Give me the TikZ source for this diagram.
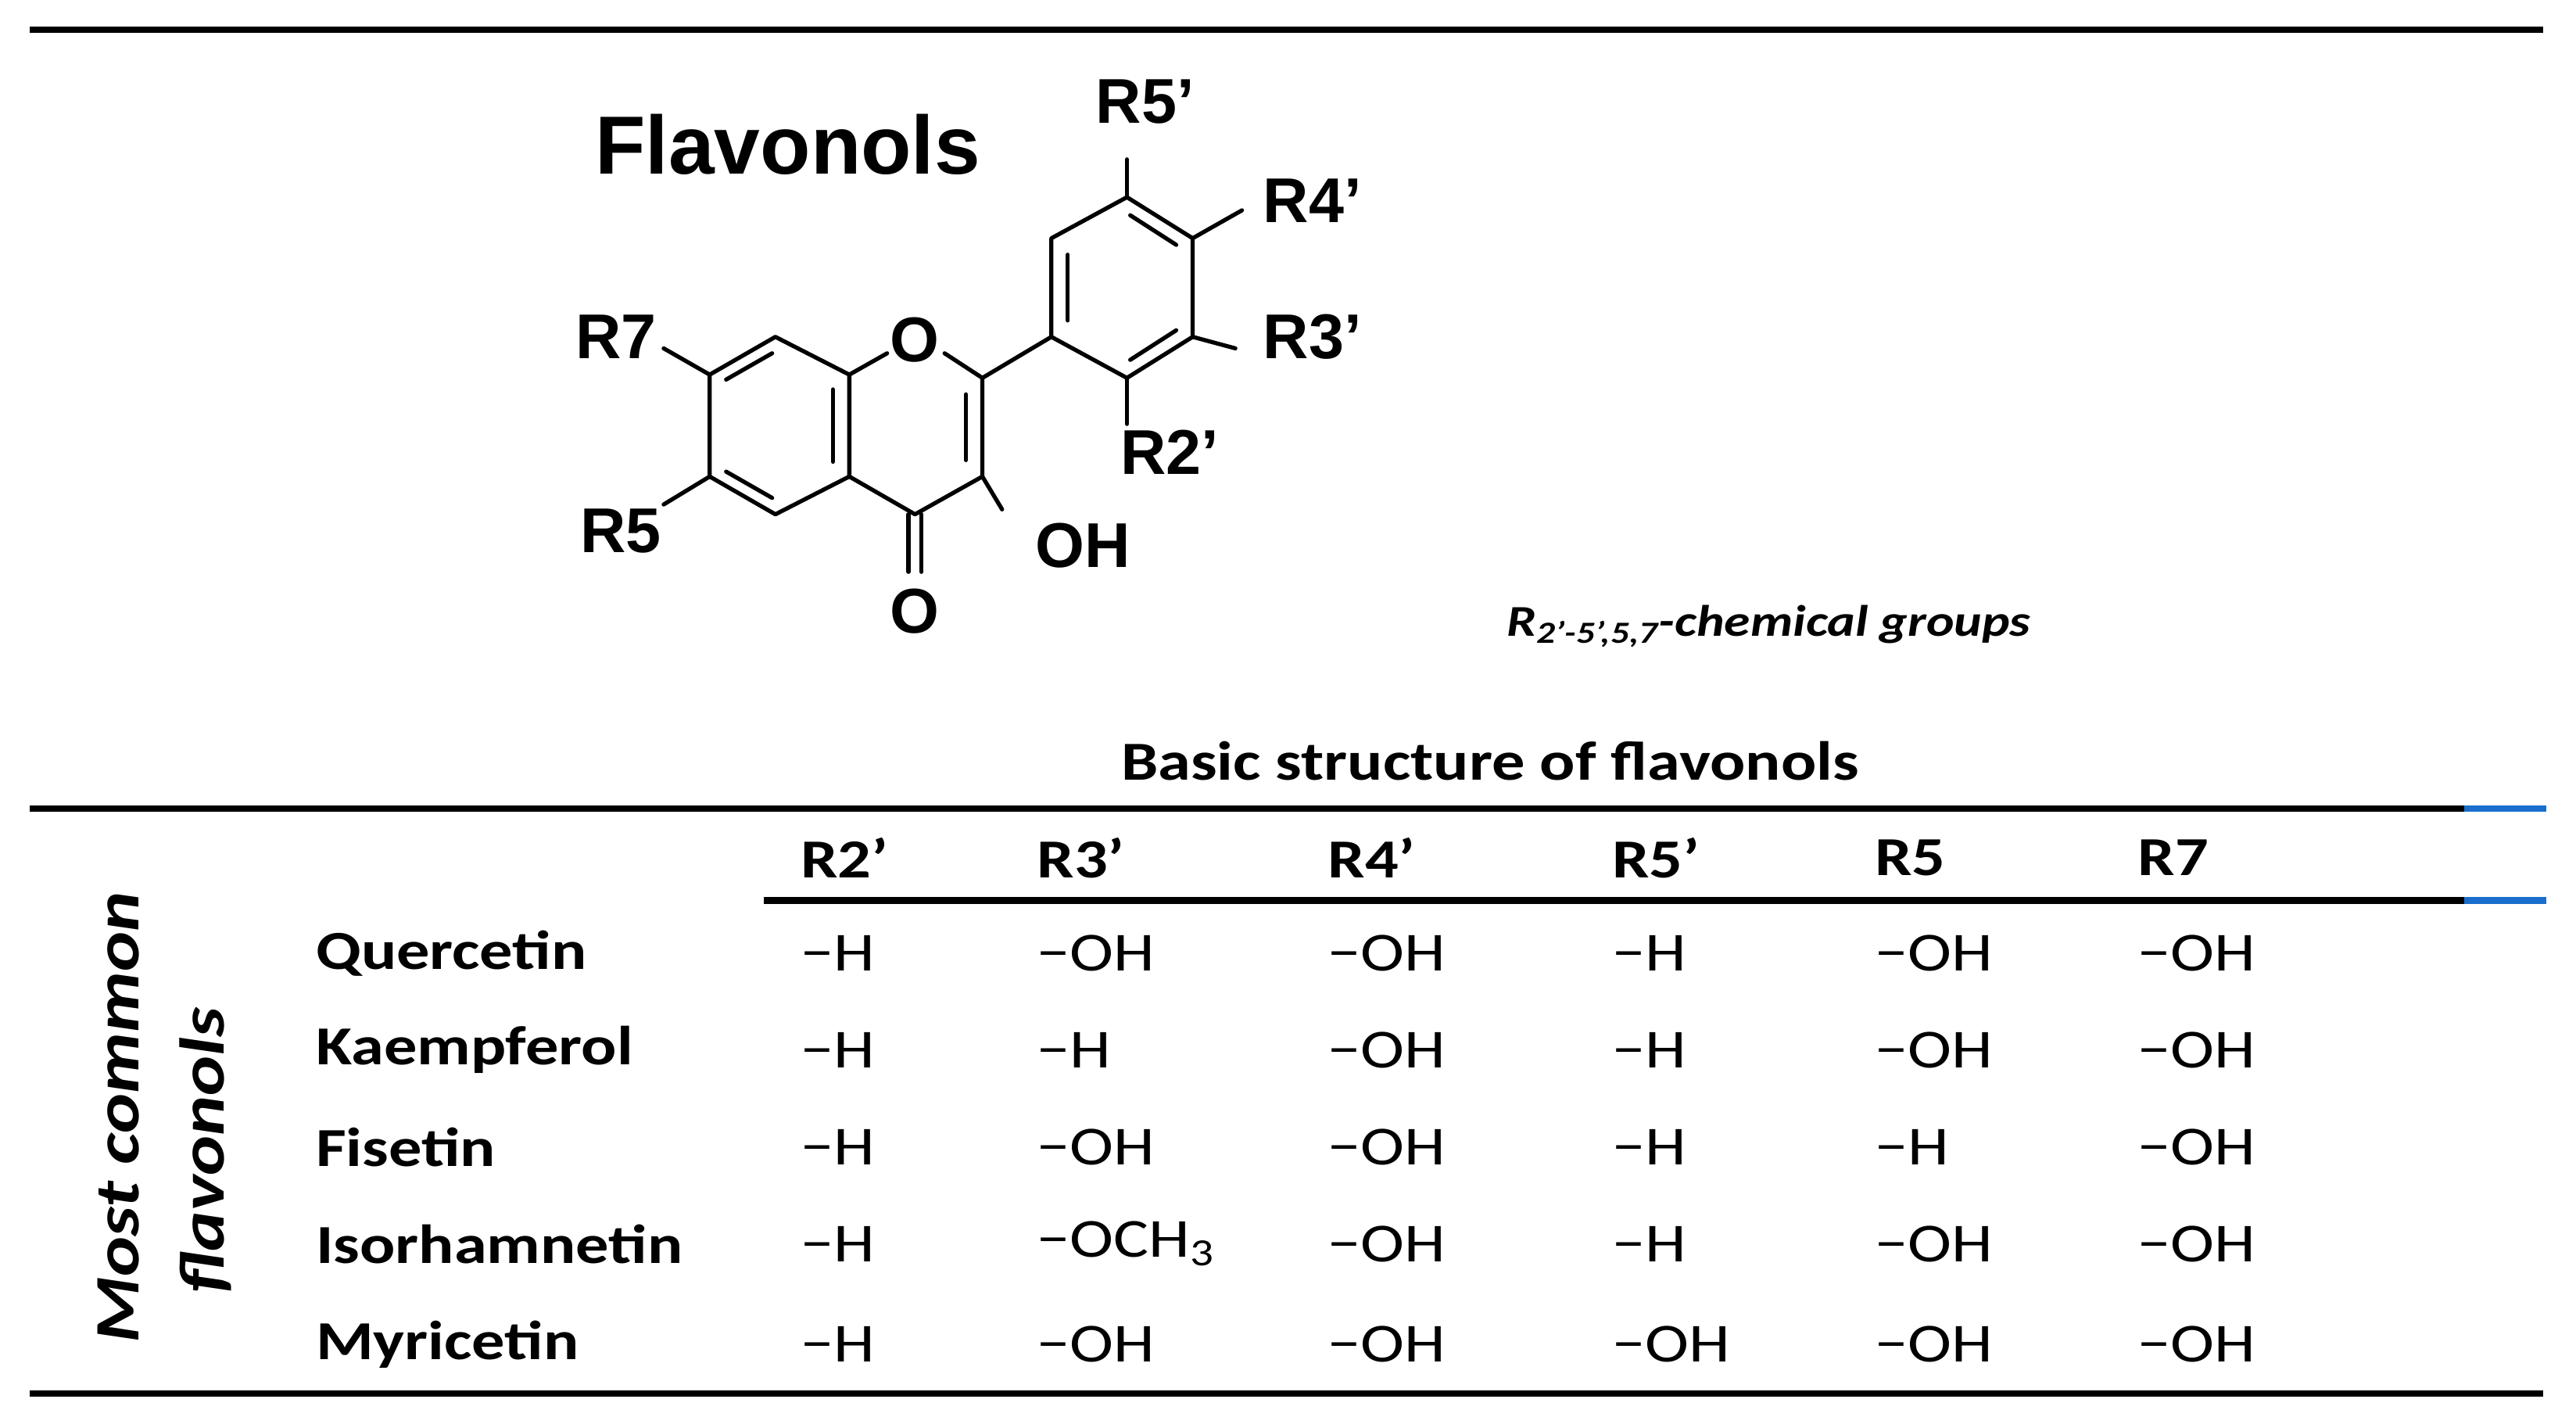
\documentclass[tikz,border=0pt]{standalone}
\usepackage{fontspec}
\setmainfont{Carlito}[FakeStretch=1.2]
\newfontfamily\arial{Liberation Sans}
\begin{document}
\begin{tikzpicture}[x=0.021cm,y=-0.021cm,
  rule/.style={line width=2.3pt},
  bond/.style={line width=1.5pt,line cap=round,line join=round},
  lab/.style={font=\arial\bfseries\fontsize{23}{26}\selectfont,inner sep=0pt},
  cell/.style={anchor=west,font=\fontsize{20}{24}\selectfont,inner sep=0pt},
  hcell/.style={cell,font=\bfseries\fontsize{20}{24}\selectfont}]
\useasboundingbox (0,0) rectangle (1568.1,862);
% rules
\draw[rule] (18,18) -- (1548,18);
\draw[rule] (18,492) -- (1500,492);
\draw[rule,color={rgb,255:red,25;green,110;blue,205}] (1500,492) -- (1550,492);
\draw[rule] (465,548) -- (1500,548);
\draw[rule,color={rgb,255:red,25;green,110;blue,205}] (1500,548) -- (1550,548);
\draw[rule] (18,848) -- (1548,848);
% molecule
\node[font=\arial\bfseries\fontsize{30}{33}\selectfont,anchor=west,inner sep=0pt] (title) at (362,88) {Flavonols};
\coordinate (a1) at (432,228); \coordinate (a2) at (472,205); \coordinate (a3) at (517,228);
\coordinate (a4) at (517,290); \coordinate (a5) at (472,313); \coordinate (a6) at (432,290);
\coordinate (c2) at (598,230); \coordinate (c3) at (598,290); \coordinate (c4) at (557,313);
\coordinate (p1) at (640,205); \coordinate (p2) at (640,145); \coordinate (p3) at (686,120);
\coordinate (p4) at (726,145); \coordinate (p5) at (726,205); \coordinate (p6) at (686,230);
\node[lab] (O1) at (557,207) {O};
\node[lab] (O2) at (557,372) {O};
\node[lab,anchor=west] (OH) at (630,332) {OH};
\node[lab] (R7) at (375,205) {R7};
\node[lab] (R5) at (378,323) {R5};
\node[lab] (R5p) at (697,62) {R5’};
\node[lab] (R4p) at (799,122) {R4’};
\node[lab] (R3p) at (799,205) {R3’};
\node[lab] (R2p) at (712,275) {R2’};
\draw[bond] (a1)--(a2)--(a3)--(a4)--(a5)--(a6)--cycle;
\draw[bond] (a3)--(540,215); \draw[bond] (575,215)--(c2)--(c3)--(c4)--(a4);
\draw[bond] (553,313)--(553,348); \draw[bond] (561,313)--(561,348);
\draw[bond] (c3)--(610,310);
\draw[bond] (c2)--(p1);
\draw[bond] (p1)--(p2)--(p3)--(p4)--(p5)--(p6)--cycle;
\draw[bond] (p3)--(686,97); \draw[bond] (p4)--(756,128); \draw[bond] (p5)--(752,212);
\draw[bond] (p6)--(686,258); \draw[bond] (a1)--(404,212); \draw[bond] (a6)--(404,307);
% inner double bonds
\draw[bond] (442,231)--(470,215); \draw[bond] (442,287)--(470,303); \draw[bond] (507,237)--(507,281);
\draw[bond] (588,240)--(588,280);
\draw[bond] (650,155)--(650,195); \draw[bond] (688,131)--(716,149); \draw[bond] (716,201)--(688,219);
\node[font=\bfseries\itshape\fontsize{16}{19}\selectfont,anchor=west,inner sep=0pt] (grp) at (917,381)
  {R\textsubscript{2’-5’,5,7}-chemical groups};
% table
\node[font=\bfseries\fontsize{20}{24}\selectfont,inner sep=0pt] (hdr) at (907,463) {Basic structure of flavonols};
\foreach \n/\x/\t in {h1/487/R2’,h2/631/R3’,h3/808/R4’,h4/981/R5’,h5/1141/R5,h6/1301/R7}
  \node[hcell] (\n) at (\x,522) {\t};
\node[rotate=90,font=\bfseries\itshape\fontsize{23}{27}\selectfont,inner sep=0pt] (mc1) at (72,680) {Most common};
\node[rotate=90,font=\bfseries\itshape\fontsize{23}{27}\selectfont,inner sep=0pt] (mc2) at (125,700) {flavonols};
\foreach \nm/\y/\va/\vb/\vc/\vd/\ve/\vf in {Quercetin/580/−H/−OH/−OH/−H/−OH/−OH,
  Kaempferol/639/−H/−H/−OH/−H/−OH/−OH,
  Fisetin/698/−H/−OH/−OH/−H/−H/−OH,
  Isorhamnetin/757/−H/−OCH\textsubscript{3}/−OH/−H/−OH/−OH,
  Myricetin/818/−H/−OH/−OH/−OH/−OH/−OH}{
  \node[hcell] (n\nm) at (192,\y) {\nm};
  \node[cell] (a\nm) at (487,\y) {\va};
  \node[cell] (b\nm) at (631,\y) {\vb};
  \node[cell] (c\nm) at (808,\y) {\vc};
  \node[cell] (d\nm) at (981,\y) {\vd};
  \node[cell] (e\nm) at (1141,\y) {\ve};
  \node[cell] (f\nm) at (1301,\y) {\vf};
}
\end{tikzpicture}
\end{document}
